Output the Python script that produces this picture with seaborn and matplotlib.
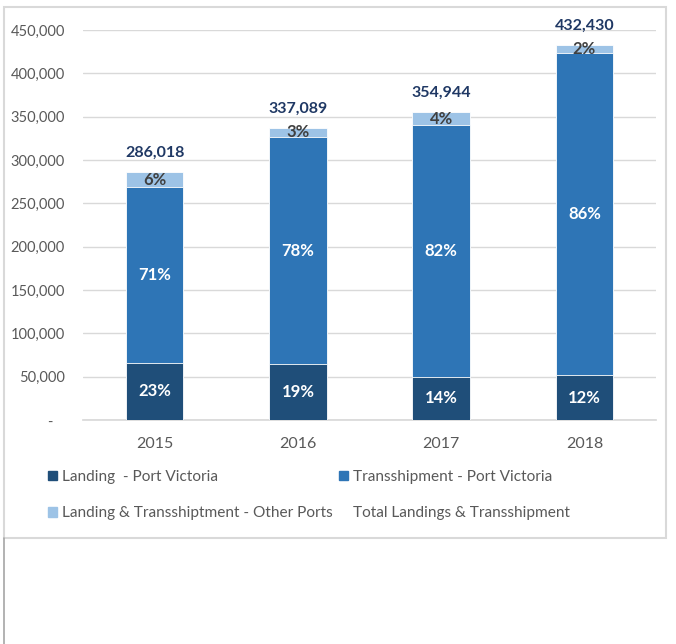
import matplotlib
matplotlib.use("Agg")
import matplotlib.pyplot as plt
from matplotlib.patches import Patch, Rectangle
from matplotlib.lines import Line2D
import seaborn as sns
import pandas as pd

# ---- data ----
years = ["2015", "2016", "2017", "2018"]
totals = [286018, 337089, 354944, 432430]
landing_pct = [23, 19, 14, 12]
trans_pct = [71, 78, 82, 86]
other_pct = [6, 3, 4, 2]
series_names = ["Landing  - Port Victoria",
                "Transshipment - Port Victoria",
                "Landing & Transshiptment - Other Ports",
                "Total Landings & Transshipment"]
y_ticks = [0, 50000, 100000, 150000, 200000, 250000, 300000, 350000, 400000, 450000]

landing = [t * p / 100 for t, p in zip(totals, landing_pct)]
trans = [t * p / 100 for t, p in zip(totals, trans_pct)]
other = [t * p / 100 for t, p in zip(totals, other_pct)]

df = pd.DataFrame({"year": years, "landing": landing, "trans": trans,
                   "other": other, "total": totals})
df["lt"] = df["landing"] + df["trans"]
df["top"] = df["lt"] + df["other"]

C_DARK = "#1F4E79"
C_MID = "#2E75B6"
C_LIGHT = "#9DC3E6"
C_NAVY = "#1F3864"
C_GREY = "#595959"

sns.set_theme(style="white")
plt.rcParams["font.family"] = ["Lato", "DejaVu Sans"]

W, H = 676, 644
fig = plt.figure(figsize=(W / 100, H / 100), dpi=100)
ax = fig.add_axes([83 / W, 1 - 420 / H, (656 - 83) / W, (420 - 30) / H])

# stacked bars drawn back-to-front from cumulative heights
bar_kw = dict(width=0.4, saturation=1, edgecolor="white", linewidth=0.6, ax=ax, zorder=3)
sns.barplot(data=df, x="year", y="top", color=C_LIGHT, **bar_kw)
sns.barplot(data=df, x="year", y="lt", color=C_MID, **bar_kw)
sns.barplot(data=df, x="year", y="landing", color=C_DARK, **bar_kw)

ax.set_ylim(0, 450000)
ax.set_xlim(-0.5, 3.5)
ax.set_yticks(y_ticks)
ax.set_yticklabels(["-   "] + [f"{v:,}" for v in y_ticks[1:]])
ax.set_xlabel("")
ax.set_ylabel("")
ax.grid(axis="y", color="#D9D9D9", linewidth=1, zorder=0)
ax.set_axisbelow(True)
for s in ["top", "right", "left"]:
    ax.spines[s].set_visible(False)
ax.spines["bottom"].set_color("#D9D9D9")
ax.tick_params(axis="y", length=0, pad=13, labelsize=10.5, labelcolor=C_GREY)
ax.tick_params(axis="x", length=0, pad=12, labelsize=11.5, labelcolor=C_GREY)

# segment percentages and totals
for i, row in df.iterrows():
    ax.text(i, row["landing"] / 2, f"{landing_pct[i]}%", ha="center", va="center",
            color="white", fontweight="bold", fontsize=12, zorder=5)
    ax.text(i, row["landing"] + row["trans"] / 2, f"{trans_pct[i]}%", ha="center",
            va="center", color="white", fontweight="bold", fontsize=12, zorder=5)
    ax.text(i, row["lt"] + row["other"] / 2, f"{other_pct[i]}%", ha="center",
            va="center", color="#404040", fontweight="bold", fontsize=12, zorder=5)
    ax.annotate(f"{totals[i]:,}", (i, row["top"]), xytext=(0, 14),
                textcoords="offset points", ha="center", va="center",
                color=C_NAVY, fontweight="bold", fontsize=11.5, zorder=5,
                annotation_clip=False)

# legend: two columns, the total series has no visible key
handles = [Patch(color=C_DARK), Patch(color=C_LIGHT), Patch(color=C_MID),
           Line2D([], [], linestyle="none")]
labels = [series_names[0], series_names[2], series_names[1], series_names[3]]
leg = fig.legend(handles, labels, ncol=2, loc="upper left",
                 bbox_to_anchor=(48 / W, 1 - 470 / H), frameon=False,
                 fontsize=11.1, handlelength=0.6, handleheight=0.6,
                 handletextpad=0.3, columnspacing=0.4, labelspacing=1.45,
                 borderpad=0, borderaxespad=0)
for t in leg.get_texts():
    t.set_color(C_GREY)

# chart frame
fig.add_artist(Rectangle((4 / W, 1 - 538 / H), (666 - 4) / W, (538 - 7) / H,
                         transform=fig.transFigure, fill=False,
                         edgecolor="#D9D9D9", linewidth=1.5))
fig.add_artist(Line2D([4 / W, 4 / W], [0, 1 - 538 / H], transform=fig.transFigure,
                      color="#A6A6A6", linewidth=1.2))

fig.savefig("out.png", dpi=100)
